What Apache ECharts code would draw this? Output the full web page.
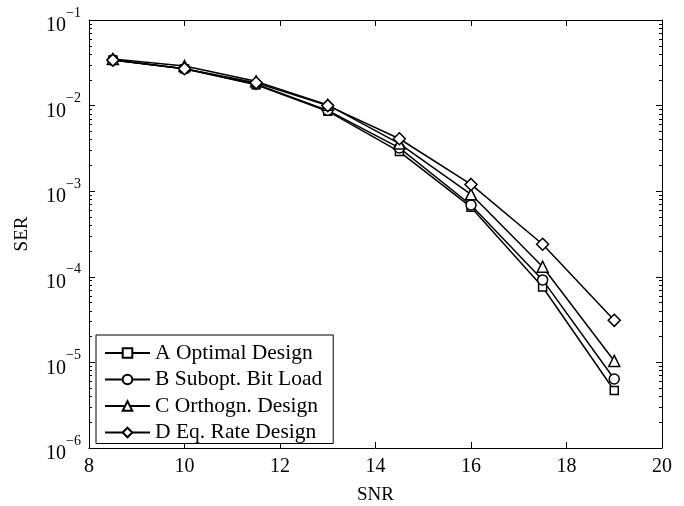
<!DOCTYPE html>
<html>
<head>
<meta charset="utf-8">
<script src="https://cdn.jsdelivr.net/npm/echarts@6/dist/echarts.min.js"></script>
<style>
  html, body { margin: 0; padding: 0; background: #fff; }
  #chart { width: 684px; height: 506px; }
</style>
</head>
<body>
<div id="chart"></div>
<script>
// SNR points
var snr = [8.5, 10, 11.5, 13, 14.5, 16, 17.5, 19];
// SER values per design
var serA = [0.034, 0.027, 0.0175, 0.0086, 0.0029, 0.00065, 0.000076, 0.0000047];
var serB = [0.034, 0.027, 0.0178, 0.0088, 0.0032, 0.00069, 0.000092, 0.0000064];
var serC = [0.035, 0.029, 0.0192, 0.0102, 0.0036, 0.00092, 0.000131, 0.0000104];
var serD = [0.034, 0.027, 0.0185, 0.0100, 0.0041, 0.00120, 0.000240, 0.000031];
var names = ["A Optimal Design", "B Subopt. Bit Load", "C Orthogn. Design", "D Eq. Rate Design"];
var symbols = ["rect", "circle", "triangle", "diamond"];
var symbolSizes = [8, 10, 11, 12];

var font = "Liberation Serif";
var allSer = [serA, serB, serC, serD];

function pairs(ys) {
  return snr.map(function (x, i) { return [x, ys[i]]; });
}

var series = allSer.map(function (ys, k) {
  return {
    name: names[k],
    type: "line",
    data: pairs(ys),
    symbol: symbols[k],
    symbolSize: symbolSizes[k],
    showAllSymbol: true,
    lineStyle: { color: "#000", width: 1.5 },
    itemStyle: { color: "#fff", borderColor: "#000", borderWidth: 1.5 },
    emphasis: { disabled: true },
    z: 3 + k
  };
});

var supMap = { "-1": "−1", "-2": "−2", "-3": "−3", "-4": "−4", "-5": "−5", "-6": "−6" };

function yLabel(v) {
  var e = Math.round(Math.log10(v));
  return "{a|10}{b|" + (supMap[String(e)] || e) + "}";
}

var chart = echarts.init(document.getElementById("chart"));
chart.setOption({
  animation: false,
  backgroundColor: "#fff",
  grid: { left: 89, right: 22, top: 20, bottom: 58, containLabel: false, outerBoundsMode: "none" },
  legend: {
    left: 96,
    top: 335,
    orient: "vertical",
    itemWidth: 45,
    itemHeight: 12,
    itemGap: 4.5,
    padding: [7, 11, 0, 8],
    borderColor: "#000",
    borderWidth: 1,
    backgroundColor: "#fff",
    textStyle: { fontFamily: font, fontSize: 21.5, lineHeight: 21, color: "#000" },
    data: names
  },
  xAxis: [
    {
      type: "value",
      min: 8,
      max: 20,
      interval: 2,
      name: "SNR",
      nameLocation: "middle",
      nameGap: 38,
      nameTextStyle: { fontFamily: font, fontSize: 19, color: "#000" },
      axisLine: { lineStyle: { color: "#000", width: 1 } },
      axisTick: { inside: true, length: 6, lineStyle: { color: "#000" } },
      axisLabel: { fontFamily: font, fontSize: 20, color: "#000", margin: 9 },
      splitLine: { show: false }
    },
    {
      type: "value",
      position: "top",
      min: 8,
      max: 20,
      interval: 2,
      axisLine: { lineStyle: { color: "#000", width: 1 } },
      axisTick: { inside: true, length: 6, lineStyle: { color: "#000" } },
      axisLabel: { show: false },
      splitLine: { show: false }
    }
  ],
  yAxis: [
    {
      type: "log",
      logBase: 10,
      min: 1e-6,
      max: 1e-1,
      name: "SER",
      nameLocation: "middle",
      nameGap: 57,
      nameTextStyle: { fontFamily: font, fontSize: 19, color: "#000" },
      axisLine: { lineStyle: { color: "#000", width: 1 } },
      axisTick: { inside: true, length: 6, lineStyle: { color: "#000" } },
      minorTick: { show: true, splitNumber: 9, length: 3, lineStyle: { color: "#000" } },
      axisLabel: {
        fontFamily: font,
        color: "#000",
        margin: 8,
        formatter: yLabel,
        rich: {
          a: { fontFamily: font, fontSize: 20, color: "#000", padding: [12, 0, 0, 0] },
          b: { fontFamily: font, fontSize: 14, color: "#000", padding: [0, 0, 14, 0] }
        }
      },
      splitLine: { show: false }
    },
    {
      type: "log",
      logBase: 10,
      position: "right",
      min: 1e-6,
      max: 1e-1,
      axisLine: { lineStyle: { color: "#000", width: 1 } },
      axisTick: { inside: true, length: 6, lineStyle: { color: "#000" } },
      minorTick: { show: true, splitNumber: 9, length: 3, lineStyle: { color: "#000" } },
      axisLabel: { show: false },
      splitLine: { show: false }
    }
  ],
  series: series
});
</script>
</body>
</html>
